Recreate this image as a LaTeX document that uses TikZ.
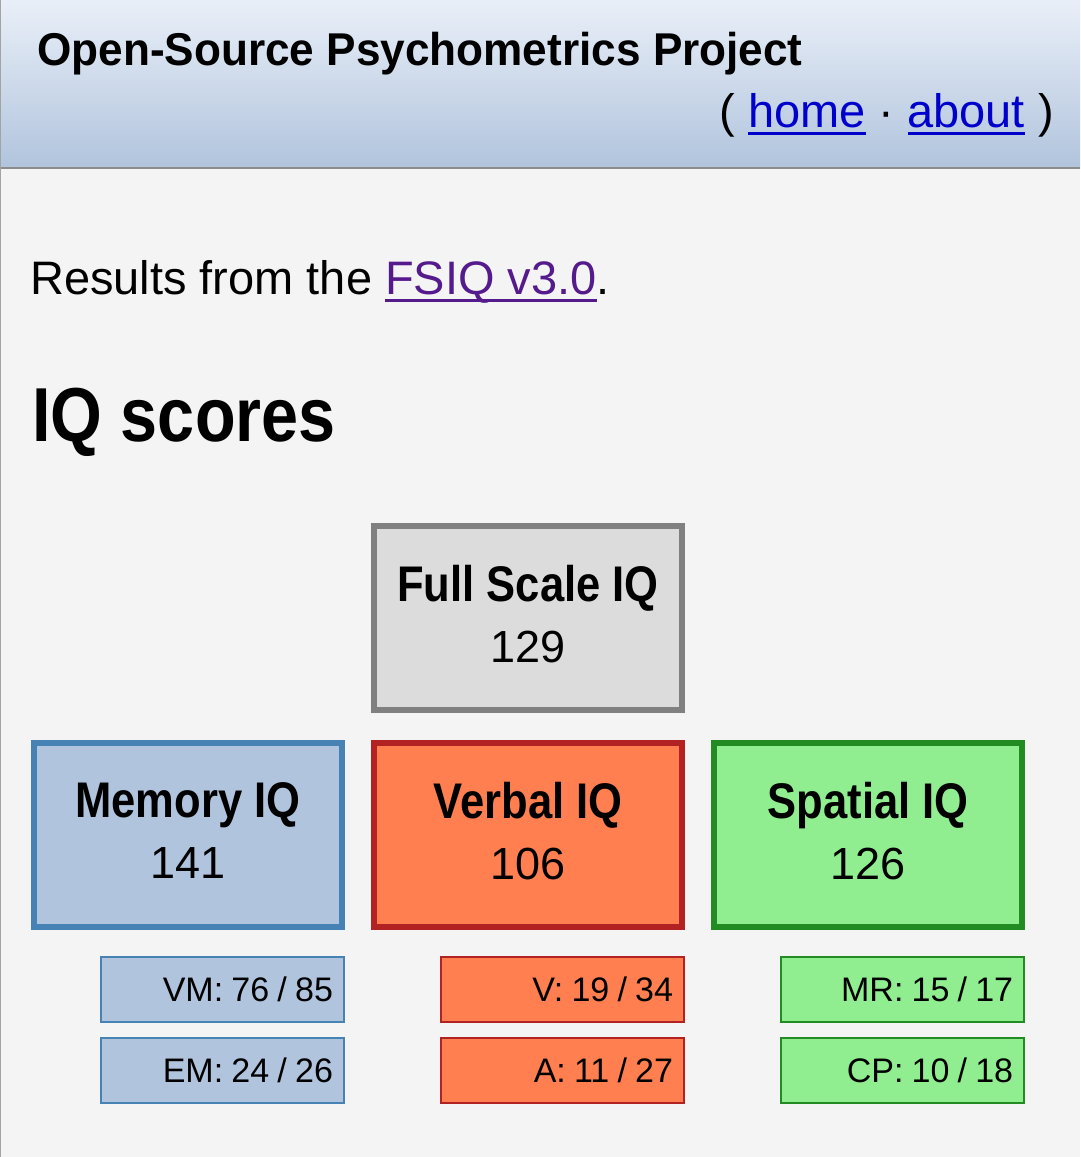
\documentclass[tikz,border=0pt]{standalone}
\usepackage{fontspec}
\setmainfont{Liberation Sans}[BoldFeatures={FakeStretch=0.87}]
\newfontfamily\headfont{Liberation Sans}[BoldFeatures={FakeStretch=0.96}]
\usepackage{xcolor}
\usepackage{tikz}
\usetikzlibrary{positioning}
\definecolor{pagebg}{HTML}{F4F4F4}
\definecolor{headtop}{HTML}{E9EFF8}
\definecolor{headbot}{HTML}{B1C4DD}
\definecolor{headline}{HTML}{8C8C8C}
\definecolor{linkblue}{HTML}{0000CC}
\definecolor{linkpurple}{HTML}{551A8B}
\definecolor{fullfill}{HTML}{DCDCDC}
\definecolor{fullline}{HTML}{808080}
\definecolor{memfill}{HTML}{B0C4DE}
\definecolor{memline}{HTML}{4682B4}
\definecolor{verbfill}{HTML}{FF7F50}
\definecolor{verbline}{HTML}{B22222}
\definecolor{spatfill}{HTML}{90EE90}
\definecolor{spatline}{HTML}{228B22}
\newcommand\linktext[2]{\textcolor{#1}{\setbox0\hbox{#2}\rlap{\rule[-5.5pt]{\wd0}{2.2pt}}\box0}}
\newcommand\tightspaces{\spaceskip=0.24em\relax}
\newcommand\boxhead[1]{{\bfseries\fontsize{35.6}{43.4}\selectfont #1}}
\newcommand\lowstrut{\rule[-6pt]{0pt}{6pt}}

\begin{document}
\begin{tikzpicture}[
  x=0.025cm, y=-0.025cm,
  txt/.style={inner sep=0pt, anchor=base west},
  bigbox/.style={rectangle, line width=4.27pt, minimum width=7.7cm, minimum height=4.6cm,
                 align=center, inner sep=0pt, font=\fontsize{32}{43.4}\selectfont},
  smallbox/.style={rectangle, line width=1.42pt, text width=5.525cm, align=right,
                   inner xsep=0.275cm, inner ysep=0pt, minimum height=1.625cm,
                   font=\fontsize{24.2}{29}\selectfont, execute at begin node=\tightspaces},
  fullcol/.style={draw=fullline, fill=fullfill},
  memcol/.style={draw=memline, fill=memfill},
  verbcol/.style={draw=verbline, fill=verbfill},
  spatcol/.style={draw=spatline, fill=spatfill}
]
\useasboundingbox (0,0) rectangle (1080,1157);
\fill[pagebg] (0,0) rectangle (1080,1157);
\shade[top color=headtop, bottom color=headbot] (0,0) rectangle (1080,168);
\draw[headline, line width=2pt] (0,168) -- (1080,168);
\draw[headline!80, line width=1pt] (0.7,0) -- (0.7,1157);

\node[txt] (title) at (37,65) {\headfont\bfseries\fontsize{32.7}{38}\selectfont Open-Source Psychometrics Project};
\node[txt, anchor=base east] (nav) at (1054,127) {\fontsize{33.4}{38}\selectfont
  ( \linktext{linkblue}{home} · \linktext{linkblue}{about} )};

\node[txt] (intro) at (30,294) {\fontsize{33.4}{40}\selectfont Results from the \linktext{linkpurple}{FSIQ v3.0}.};
\node[txt] (head) at (32,441) {\fontsize{54.4}{64}\selectfont\bfseries IQ scores};

\node[bigbox, fullcol] (fsiq) at (528,618) {\boxhead{Full Scale IQ}\\129\lowstrut};
\node[bigbox, verbcol, below=0.675cm of fsiq] (verb) {\boxhead{Verbal IQ}\\106\lowstrut};
\node[bigbox, memcol, left=0.65cm of verb] (mem) {\boxhead{Memory IQ}\\141\lowstrut};
\node[bigbox, spatcol, right=0.65cm of verb] (spat) {\boxhead{Spatial IQ}\\126\lowstrut};

\node[smallbox, memcol, below=0.65cm of mem.south east, anchor=north east] (vm) {VM: 76 / 85};
\node[smallbox, memcol, below=0.35cm of vm] (em) {EM: 24 / 26};
\node[smallbox, verbcol, below=0.65cm of verb.south east, anchor=north east] (v) {V: 19 / 34};
\node[smallbox, verbcol, below=0.35cm of v] (a) {A: 11 / 27};
\node[smallbox, spatcol, below=0.65cm of spat.south east, anchor=north east] (mr) {MR: 15 / 17};
\node[smallbox, spatcol, below=0.35cm of mr] (cp) {CP: 10 / 18};

\end{tikzpicture}
\end{document}
